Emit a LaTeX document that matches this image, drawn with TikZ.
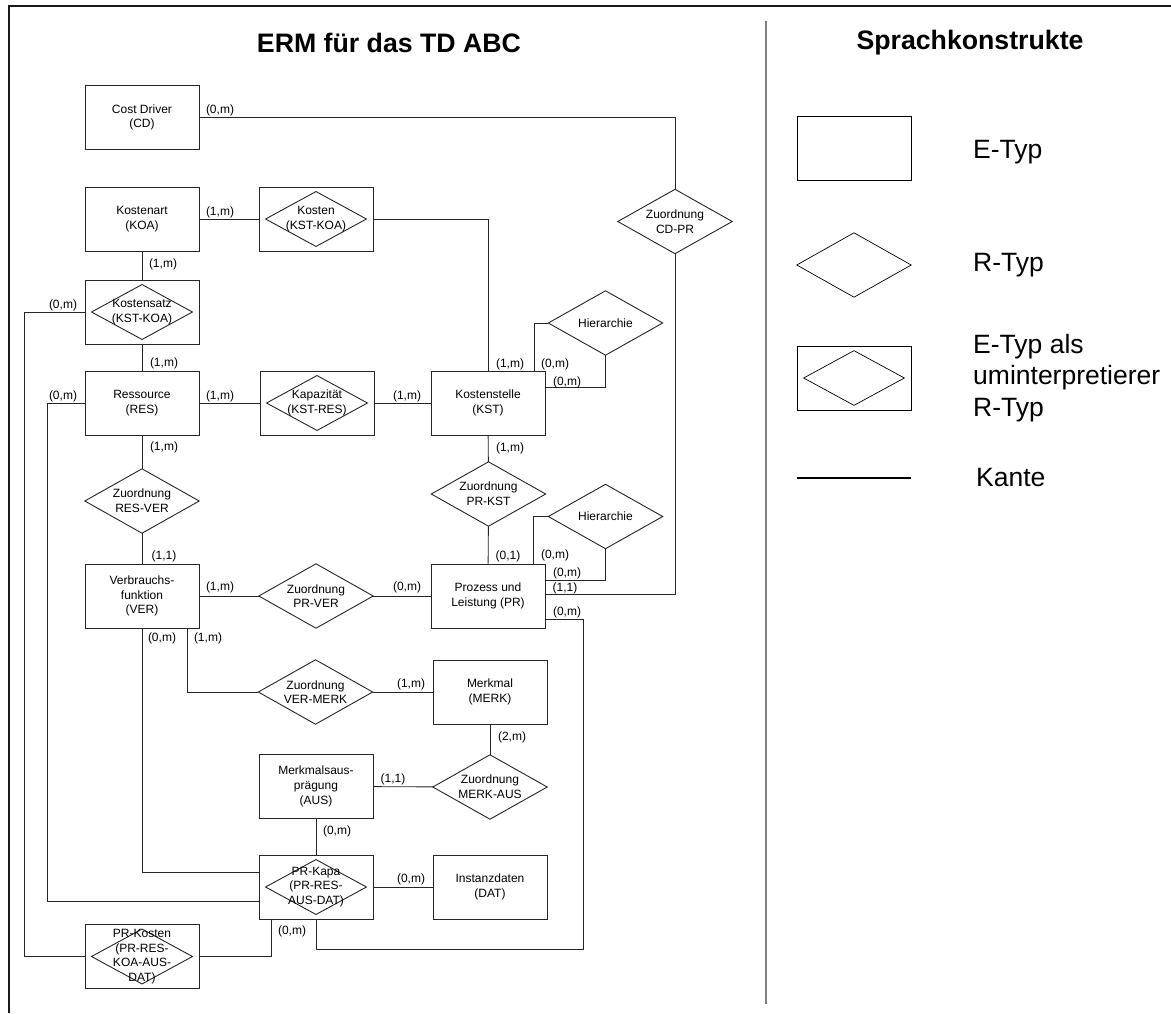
\documentclass[tikz,border=0pt]{standalone}
\usepackage{fontspec}
\setmainfont{Liberation Sans}
\begin{document}
\begin{tikzpicture}[x=1pt,y=-1pt,
  every node/.style={font=\fontsize{12}{14.7}\selectfont, align=center, inner sep=0pt},
  edge line/.style={draw=black!85, line width=0.9pt},
  etype/.style={draw=black!85, line width=0.9pt, rectangle,
    minimum width=114pt, minimum height=64pt},
  rtype/.style={rectangle, minimum width=114pt, minimum height=64pt,
    append after command={\pgfextra{\draw[edge line]
      (\tikzlastnode.north) -- (\tikzlastnode.east) -- (\tikzlastnode.south)
      -- (\tikzlastnode.west) -- cycle;}}},
  ertype/.style={etype,
    append after command={\pgfextra{\draw[edge line]
      ([yshift=-5pt]\tikzlastnode.north) -- ([xshift=-7pt]\tikzlastnode.east)
      -- ([yshift=5pt]\tikzlastnode.south) -- ([xshift=7pt]\tikzlastnode.west) -- cycle;}}},
  lbl/.style={font=\fontsize{12}{14}\selectfont},
  title/.style={font=\fontsize{26.7}{32}\selectfont\bfseries},
  legtext/.style={font=\fontsize{26.5}{31.5}\selectfont, align=left, anchor=west},
  conn/.style={edge line}
]
\useasboundingbox (0,0) rectangle (1171,1013);

% frame and divider
\draw[line width=2pt, black!90] (9,1013) -- (9,6) -- (1171,6);
\draw[line width=2pt, black!50] (766,21) -- (766,1004);

% headings
\node[title] (t1) at (389,43) {ERM für das TD ABC};
\node[title] (t2) at (970,43) {Sprachkonstrukte};

% entity types
\node[etype] (cd)  at (142,117.5) {Cost Driver\\(CD)};
\node[etype] (koa) at (142,219) {Kostenart\\(KOA)};
\node[etype] (res) at (142,403) {Ressource\\(RES)};
\node[etype] (kst) at (488,403) {Kostenstelle\\(KST)};
\node[etype] (ver) at (142,596) {Verbrauchs-\\funktion\\(VER)};
\node[etype] (pr)  at (488,596) {Prozess und\\Leistung (PR)};
\node[etype] (merk) at (490,692) {Merkmal\\(MERK)};
\node[etype] (aus) at (316,786.5) {Merkmalsaus-\\prägung\\(AUS)};
\node[etype] (dat) at (490,887) {Instanzdaten\\(DAT)};

% entity types reinterpreted as relationship types
\node[ertype] (kosten)   at (316,219) {Kosten\\(KST-KOA)};
\node[ertype] (ksatz)    at (142,312) {Kostensatz\\(KST-KOA)};
\node[ertype] (kap)      at (317,403) {Kapazität\\(KST-RES)};
\node[ertype] (prkapa)   at (316,887) {PR-Kapa\\(PR-RES-\\AUS-DAT)};
\node[ertype] (prkosten) at (142,956.5) {PR-Kosten\\(PR-RES-\\KOA-AUS-\\DAT)};

% relationship types
\node[rtype] (cdpr)    at (675,221.5) {Zuordnung\\CD-PR};
\node[rtype] (hier1)   at (605.5,323) {Hierarchie};
\node[rtype] (resver)  at (142,501) {Zuordnung\\RES-VER};
\node[rtype] (prkst)   at (488.5,494) {Zuordnung\\PR-KST};
\node[rtype] (hier2)   at (605.5,516.5) {Hierarchie};
\node[rtype] (prver)   at (316,596) {Zuordnung\\PR-VER};
\node[rtype] (vermerk) at (315.5,692) {Zuordnung\\VER-MERK};
\node[rtype] (merkaus) at (490,787) {Zuordnung\\MERK-AUS};

% connectors
\draw[conn] (cd.east) -| (cdpr.north);
\draw[conn] (cdpr.south) |- ([yshift=-31pt]pr.north east);
\draw[conn] (koa) -- (kosten);
\draw[conn] (kosten.east) -| (kst.north);
\draw[conn] (koa) -- (ksatz);
\draw[conn] (ksatz.west) -- ++(-60,0) |- (prkosten.west);
\draw[conn] (ksatz) -- (res);
\draw[conn] (res) -- (kap);
\draw[conn] (kap) -- (kst);
\draw[conn] (res.west) -- ++(-37,0) |- ([yshift=-14pt]prkapa.west);
\draw[conn] (hier1.west) -| ([xshift=-11pt]kst.north east);
\draw[conn] (hier1.south) |- ([yshift=-17pt]kst.north east);
\draw[conn] (res) -- (resver);
\draw[conn] (resver) -- (ver);
\draw[conn] (kst) -- (prkst);
\draw[conn] (prkst) -- (pr);
\draw[conn] (hier2.west) -| ([xshift=-12pt]pr.north east);
\draw[conn] (hier2.south) |- ([yshift=-17pt]pr.north east);
\draw[conn] (ver) -- (prver);
\draw[conn] (prver) -- (pr);
\draw[conn] ([yshift=-56pt]pr.north east) -- ++(38,0) |- ([yshift=-30pt]prkapa.south) -- (prkapa.south);
\draw[conn] (ver.south) |- ([yshift=15pt]prkapa.west);
\draw[conn] ([xshift=45pt]ver.south) |- (vermerk.west);
\draw[conn] (vermerk) -- (merk);
\draw[conn] (merk) -- (merkaus);
\draw[conn] (merkaus) -- (aus);
\draw[conn] (aus) -- (prkapa);
\draw[conn] (prkapa) -- (dat);
\draw[conn] ([xshift=-45pt]prkapa.south) |- (prkosten.east);

% cardinalities
\node[lbl] (c1)  at (220,110) {(0,m)};
\node[lbl] (c2)  at (565,588) {(1,1)};
\node[lbl] (c3)  at (220,212) {(1,m)};
\node[lbl] (c4)  at (510,364) {(1,m)};
\node[lbl] (c5)  at (163,264) {(1,m)};
\node[lbl] (c6)  at (63,305) {(0,m)};
\node[lbl] (c7)  at (164,363) {(1,m)};
\node[lbl] (c8)  at (220,396) {(1,m)};
\node[lbl] (c9)  at (407,396) {(1,m)};
\node[lbl] (c10) at (63,396) {(0,m)};
\node[lbl] (c11) at (555,364) {(0,m)};
\node[lbl] (c12) at (567,382) {(0,m)};
\node[lbl] (c13) at (164,447) {(1,m)};
\node[lbl] (c14) at (164,556) {(1,1)};
\node[lbl] (c15) at (510,448) {(1,m)};
\node[lbl] (c16) at (508,556) {(0,1)};
\node[lbl] (c17) at (555,555) {(0,m)};
\node[lbl] (c18) at (567,573) {(0,m)};
\node[lbl] (c19) at (220,587) {(1,m)};
\node[lbl] (c20) at (407,587) {(0,m)};
\node[lbl] (c21) at (567,612) {(0,m)};
\node[lbl] (c22) at (162,638) {(0,m)};
\node[lbl] (c23) at (208,638) {(1,m)};
\node[lbl] (c24) at (411,684) {(1,m)};
\node[lbl] (c25) at (512,737) {(2,m)};
\node[lbl] (c26) at (393,779) {(1,1)};
\node[lbl] (c27) at (337,831) {(0,m)};
\node[lbl] (c28) at (411,879) {(0,m)};
\node[lbl] (c29) at (292,931) {(0,m)};

% legend
\node[etype, draw=black, line width=0.7pt] (le) at (854,148) {};
\node[legtext] (lte) at (973,152) {E-Typ};
\node[rectangle, minimum width=114pt, minimum height=64pt] (lr) at (854,265) {};
\draw[draw=black, line width=0.7pt] (lr.north) -- (lr.east) -- (lr.south) -- (lr.west) -- cycle;
\node[legtext] (ltr) at (973,265) {R-Typ};
\node[etype, draw=black, line width=0.7pt] (ler) at (854,378) {};
\draw[draw=black, line width=0.7pt] ([yshift=-5pt]ler.north) -- ([xshift=-7pt]ler.east)
  -- ([yshift=5pt]ler.south) -- ([xshift=7pt]ler.west) -- cycle;
\node[legtext] (lter) at (973,378) {E-Typ als\\uminterpretierer\\R-Typ};
\coordinate (k1) at (797,478);
\coordinate (k2) at (911,478);
\draw[line width=1.6pt, black] (k1) -- (k2);
\node[legtext] (ltk) at (976,478) {Kante};
\end{tikzpicture}
\end{document}
